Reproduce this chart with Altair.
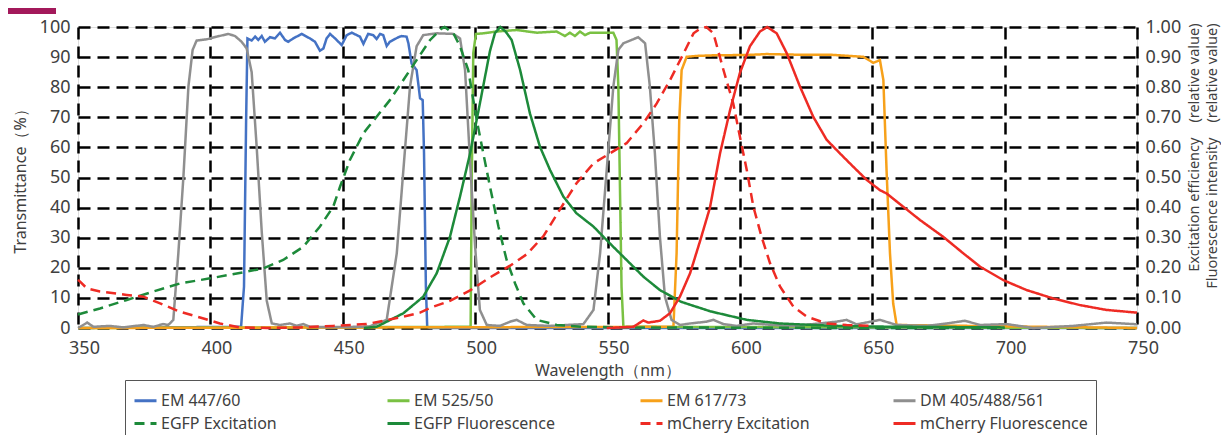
import altair as alt
import pandas as pd

# ---------------- data ----------------
SERIES = ["EM 447/60", "EM 525/50", "EM 617/73", "DM 405/488/561",
          "EGFP Excitation", "EGFP Fluorescence", "mCherry Excitation", "mCherry Fluorescence"]
COLORS = ["#4472C4", "#7AC143", "#F7A11A", "#8F8F8F",
          "#1D8A3A", "#1D8A3A", "#EE2B24", "#EE2B24"]

# Filters: transmittance (%)
em447_wl = [350, 411.6, 412.7, 413.5, 414.0, 415.6, 416.9, 418.1, 419.4, 420.6, 422.5, 424.4, 426.3,
            428.2, 429.4, 431.3, 434.5, 437.6, 439.5, 441.4, 442.7, 443.9, 445.2, 447.1, 449.6, 451.5,
            453.4, 455.3, 456.5, 457.8, 459.6, 461.5, 462.8, 464.1, 465.3, 466.6, 467.8, 469.1, 471.0,
            472.2, 474.1, 474.8, 476.0, 477.9, 479.2, 480.2, 480.7, 481.4, 481.9, 483, 750]
em447_t = [0, 0.4, 13.7, 69, 96.2, 95.5, 96.8, 95.7, 97.0, 95.1, 96.6, 96.2, 98.1,
           95.7, 95.1, 96.2, 97.7, 96.2, 95.1, 92.1, 92.9, 96.2, 97.7, 96.2, 94.0, 97.3,
           98.1, 97.3, 96.8, 94.4, 97.7, 97.3, 96.0, 97.7, 97.3, 93.7, 95.1, 95.7, 96.6,
           97.0, 96.8, 94.6, 87.9, 85.7, 76.3, 75.7, 58, 13.7, 0.4, 0, 0]

em525_wl = [350, 498.3, 498.7, 499.3, 500.3, 503.1, 508.1, 515.7, 523.3, 530.8, 533.9, 535.8, 537.7,
            539.6, 541.5, 543.4, 548.4, 552.2, 553.4, 554.1, 554.7, 555.3, 556.0, 750]
em525_t = [0, 0.4, 47, 91.3, 97.7, 97.9, 98.5, 99.0, 98.1, 98.5, 97.0, 98.1, 97.0,
           98.5, 97.3, 98.1, 98.1, 98.1, 95.7, 80.2, 47, 13.7, 0.4, 0]

em617_wl = [350, 574.9, 576.1, 577.1, 578.0, 579.9, 583.7, 590.0, 602.6, 610.1, 621.5, 634.0, 646.6,
            650.4, 652.9, 654.2, 655.4, 656.7, 657.9, 659.2, 750]
em617_t = [0, 0.4, 24.8, 69.1, 85.7, 90.1, 90.4, 90.6, 90.7, 91.0, 90.8, 90.8, 90.1,
           88.1, 89.0, 82.4, 52.5, 24.8, 8.2, 1.0, 0]

dm_wl = [350, 353.5, 355.8, 362.1, 367, 374.7, 378.4, 382.2, 384.1, 386.0, 387.9, 389.8, 391.7, 393.3,
         394.8, 398.6, 402.4, 406.8, 409.3, 411.8, 413.7, 415.6, 417.5, 419.4, 421.3, 423.2, 426.3,
         430.1, 432.6, 435.1, 437.6, 450, 460, 466.6, 470.4, 472.9, 475.4, 477.9, 480.4, 485.5, 491.8,
         494.3, 496.2, 498.1, 500, 501.8, 504.4, 509.4, 513.2, 515.7, 519.5, 528.3, 540.9, 544.7, 547.2,
         549.7, 552.2, 554.1, 556, 559.1, 561.6, 564.2, 566, 567.9, 569.8, 571.7, 574.2, 577.4, 581.2,
         587.4, 590, 593.8, 598.8, 605.1, 612.6, 620.2, 627.7, 636.5, 640.3, 644.1, 652.9, 659.2, 670.5,
         678.1, 685, 690.7, 700.8, 710.8, 726, 738.5, 748.6, 750]
dm_t = [0, 1.8, 0.4, 0.7, 0.2, 1.0, 0.4, 1.3, 1.0, 2.7, 24.8, 50, 80.2, 92.4,
        95.5, 95.9, 96.8, 97.7, 97.0, 95.1, 92.9, 85, 60, 32, 9, 1.5, 1.0,
        1.5, 0.7, 1.3, 0.4, 0.3, 0.5, 2.7, 24.8, 52.5, 80.2, 93.6, 97.3, 97.9, 97.7,
        96.2, 85.7, 55, 27, 6, 1.0, 0.7, 2.1, 2.7, 1.0, 0.7, 1.3, 6.0, 24.8,
        52.5, 80.2, 92.4, 94.6, 95.7, 96.6, 94.6, 80.2, 58, 30.3, 10.4, 2.7, 1.0, 1.5,
        2.1, 2.7, 1.3, 0.7, 1.5, 1.0, 0.7, 1.3, 2.1, 2.7, 1.2, 2.7, 1.0, 0.7,
        1.5, 2.4, 1.0, 1.3, 0, 0.7, 1.8, 1.3, 1.2]

# Fluorescent proteins: relative values (0-1)
egfp_ex_wl = [350, 358.3, 368.4, 378.4, 388.5, 399.9, 412.4, 420, 427.5, 435.1, 441.4, 446.4, 449,
              452.7, 457.8, 462.8, 467.8, 472.9, 477.9, 483, 487.3, 488.5, 491.8, 494.3, 497.4, 500.6,
              503.1, 505.6, 508.8, 511.9, 515.1, 518.2, 523.3, 530.8, 540.9, 560, 600, 650, 700]
egfp_ex_v = [0.045, 0.065, 0.093, 0.121, 0.148, 0.165, 0.185, 0.198, 0.226, 0.27, 0.337, 0.403, 0.47,
             0.558, 0.647, 0.702, 0.757, 0.824, 0.89, 0.957, 0.995, 1.0, 0.979, 0.936, 0.857, 0.691,
             0.58, 0.47, 0.337, 0.226, 0.148, 0.082, 0.027, 0.01, 0.004, 0.002, 0.001, 0, 0]

egfp_fl_wl = [458, 462.8, 472.9, 480.4, 485.5, 490.5, 494.3, 498.1, 501.8, 505.6, 507.5, 509.5, 511.5,
              513.8, 517, 520.7, 524.5, 528.3, 533.3, 538.3, 544.7, 550.9, 557.2, 563.5, 569.8, 577.8,
              589, 602.6, 615.2, 627.7, 640.3, 660, 680, 700]
egfp_fl_v = [0, 0.004, 0.049, 0.104, 0.182, 0.303, 0.437, 0.58, 0.746, 0.92, 0.98, 1.0, 0.985,
             0.957, 0.857, 0.713, 0.602, 0.525, 0.437, 0.381, 0.337, 0.281, 0.226, 0.171, 0.126, 0.087,
             0.055, 0.027, 0.015, 0.01, 0.006, 0.004, 0.003, 0.002]

mch_ex_wl = [350, 350.8, 353.3, 358.3, 368.4, 374.7, 381, 388.5, 396.1, 403.6, 411.2, 421.3, 433.9,
             446.4, 459, 471.6, 479.2, 484.2, 490.5, 498.1, 505.6, 513.2, 519.5, 525.8, 532.1, 538.3,
             544.7, 550.9, 557.2, 563.5, 568.6, 574, 578.6, 582.5, 585, 587.4, 590, 593.8, 597.5, 600,
             602.6, 605.1, 608.2, 611.4, 615.2, 620.2, 625.2, 632.8, 640.3, 650.4]
mch_ex_v = [0.16, 0.154, 0.132, 0.121, 0.11, 0.104, 0.082, 0.054, 0.035, 0.015, 0.002, 0.0, 0.002,
            0.007, 0.013, 0.035, 0.051, 0.071, 0.09, 0.125, 0.168, 0.207, 0.245, 0.305, 0.395, 0.481,
            0.547, 0.58, 0.614, 0.68, 0.746, 0.83, 0.91, 0.979, 0.995, 1.0, 0.979, 0.857, 0.746, 0.636,
            0.525, 0.403, 0.303, 0.215, 0.137, 0.071, 0.038, 0.015, 0.01, 0.007]

mch_fl_wl = [549.7, 559.8, 563.5, 565.4, 569.8, 573.6, 577.4, 581.2, 585, 588.7, 592.5, 596.3, 600,
             603.8, 607.6, 610.3, 613.9, 617.7, 622.7, 627.7, 632.8, 637.8, 642.8, 647.9, 652.9, 655.4,
             661.7, 668, 676.8, 684.4, 690.7, 699.5, 708.3, 718.4, 728.5, 738.5, 750]
mch_fl_v = [0, 0.004, 0.025, 0.018, 0.024, 0.049, 0.105, 0.182, 0.29, 0.40, 0.58, 0.724, 0.847,
            0.936, 0.985, 1.0, 0.979, 0.913, 0.802, 0.702, 0.625, 0.58, 0.536, 0.492, 0.458, 0.447,
            0.403, 0.359, 0.303, 0.248, 0.204, 0.159, 0.126, 0.098, 0.076, 0.06, 0.051]

X_TICKS = [350, 400, 450, 500, 550, 600, 650, 700, 750]
Y_TICKS = [0, 10, 20, 30, 40, 50, 60, 70, 80, 90, 100]
R_TICKS = [0.0, 0.1, 0.2, 0.3, 0.4, 0.5, 0.6, 0.7, 0.8, 0.9, 1.0]

# ---------------- tables ----------------
def table(name, wl, v, col):
    return pd.DataFrame({"wl": wl, col: v, "series": name})

filt_df = pd.concat([
    table(SERIES[0], em447_wl, em447_t, "val"),
    table(SERIES[1], em525_wl, em525_t, "val"),
    table(SERIES[2], em617_wl, em617_t, "val"),
    table(SERIES[3], dm_wl, dm_t, "val"),
], ignore_index=True)

fluo_df = pd.concat([
    table(SERIES[4], egfp_ex_wl, egfp_ex_v, "rel"),
    table(SERIES[5], egfp_fl_wl, egfp_fl_v, "rel"),
    table(SERIES[6], mch_ex_wl, mch_ex_v, "rel"),
    table(SERIES[7], mch_fl_wl, mch_fl_v, "rel"),
], ignore_index=True)

TXT = "#404040"
FONT = "Noto Sans"
GRID = dict(grid=True, gridColor="black", gridDash=[12, 7], gridWidth=2.5, gridOpacity=1)

x_enc = alt.X(
    "wl:Q",
    scale=alt.Scale(domain=[350, 750], nice=False, zero=False),
    axis=alt.Axis(values=X_TICKS, title="Wavelength（nm）", domain=False, ticks=False,
                  labelPadding=11, labelFontSize=18, labelFlush=False, labelOffset=6,
                  labelColor=TXT, titleColor=TXT, titleFontSize=16, titleFontWeight="normal",
                  titleFont=FONT, labelFont=FONT, titleBaseline="top", titleY=34, **GRID),
)

LEG = dict(orient="none", legendX=47, legendY=353, columns=4, direction="horizontal",
           gridAlign="all", columnPadding=52, rowPadding=2, symbolType="stroke",
           symbolSize=484, symbolStrokeWidth=3, labelFontSize=16, labelFont=FONT,
           labelColor=TXT, labelOffset=3, labelLimit=300, padding=8,
           strokeColor="#555555", title=None)

color_enc = alt.Color("series:N", scale=alt.Scale(domain=SERIES, range=COLORS),
                      legend=alt.Legend(**LEG))
dash_enc = alt.StrokeDash(
    "series:N",
    scale=alt.Scale(domain=SERIES,
                    range=[[1, 0], [1, 0], [1, 0], [1, 0], [10, 6], [1, 0], [10, 6], [1, 0]]),
    legend=alt.Legend(**LEG),
)

filters = alt.Chart(filt_df).mark_line(strokeWidth=2.5).encode(
    x=x_enc,
    y=alt.Y("val:Q", scale=alt.Scale(domain=[0, 100], nice=False),
            axis=alt.Axis(orient="left", values=Y_TICKS, title="Transmittance（%）",
                          domain=False, ticks=False, labelPadding=8, labelFontSize=18,
                          labelColor=TXT, labelFont=FONT, titleColor=TXT, titleFontSize=16,
                          titleFont=FONT, titleFontWeight="normal", titleAngle=270,
                          titleAlign="center", titleBaseline="middle", titleX=-58, titleY=150,
                          **GRID)),
    color=color_enc,
    strokeDash=dash_enc,
)

fluors = alt.Chart(fluo_df).mark_line(strokeWidth=2.5).encode(
    x=x_enc,
    y=alt.Y("rel:Q", scale=alt.Scale(domain=[0, 1], nice=False),
            axis=alt.Axis(orient="right", values=R_TICKS, format=".2f",
                          title=["Excitation efficiency　(relative value)",
                                 "Fluorescence intensity　(relative value)"],
                          grid=False, domain=False, ticks=False, labelPadding=8, labelFontSize=18,
                          labelColor=TXT, labelFont=FONT, titleColor=TXT, titleFontSize=14.5,
                          titleFont=FONT, titleFontWeight="normal", titleAngle=270,
                          titleAlign="right", titleBaseline="middle", titleX=57, titleY=-4,
                          titleLineHeight=18)),
    color=color_enc,
    strokeDash=dash_enc,
)

tab = alt.Chart(pd.DataFrame({"k": [0]})).mark_rect(color="#A3195B").encode(
    x=alt.value(-70), x2=alt.value(-22), y=alt.value(-19), y2=alt.value(-13)
)

chart = alt.layer(filters, fluors, tab).resolve_scale(y="independent").properties(
    width=1059, height=301,
    autosize=alt.AutoSizeParams(type="none"),
    padding={"left": 70, "top": 19, "right": 84, "bottom": 107},
).configure_view(
    stroke="black", strokeWidth=3.5
).configure(font=FONT)

chart.save("out.html", embed_options={"renderer": "svg", "actions": False})
